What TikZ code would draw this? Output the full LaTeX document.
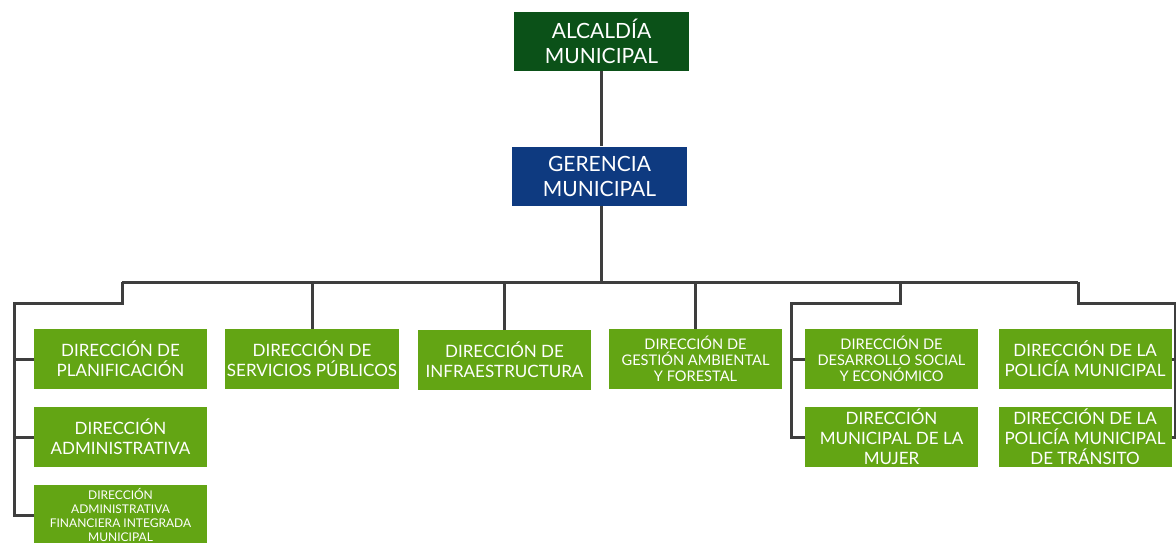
\documentclass[tikz,border=0pt]{standalone}
\usepackage{fontspec}
\setmainfont{Lato}
\usetikzlibrary{positioning}
\definecolor{alcaldia}{HTML}{0B5118}
\definecolor{gerencia}{HTML}{0E3A80}
\definecolor{direccion}{HTML}{63A514}
\definecolor{linea}{HTML}{3E3E3E}
\tikzset{
box/.style={minimum width=86.5pt, minimum height=30pt, inner sep=1pt, align=center, text=white, font=\fontsize{8.5}{10}\selectfont},
top box/.style={box, minimum width=87.5pt, minimum height=29.5pt, font=\fontsize{10.5}{12.5}\selectfont},
dir/.style={box, fill=direccion},
small/.style={font=\fontsize{7.3}{8}\selectfont},
tiny/.style={font=\fontsize{6}{7}\selectfont},
line/.style={draw=linea, line width=1.5pt}
}
\begin{document}
\begin{tikzpicture}[x=0.5pt, y=-0.5pt]
                \useasboundingbox (0,0) rectangle (1176,542);
                \node[top box, fill=alcaldia] (alc) at (601.5,41.5) {ALCALDÍA\\MUNICIPAL};
                \node[top box, fill=gerencia] (ger) at (599.5,176) {GERENCIA\\MUNICIPAL};
                \node[dir] (d11) at (120.5,359) {DIRECCIÓN DE\\PLANIFICACIÓN};
                \node[dir] (d12) at (120.5,437) {DIRECCIÓN\\ADMINISTRATIVA};
                \node[dir, tiny] (d13) at (120.5,515) {DIRECCIÓN\\ADMINISTRATIVA\\FINANCIERA INTEGRADA\\MUNICIPAL};
                \node[dir] (d21) at (312,359) {DIRECCIÓN DE\\SERVICIOS PÚBLICOS};
                \node[dir] (d31) at (504.5,360) {DIRECCIÓN DE\\INFRAESTRUCTURA};
                \node[dir, small] (d41) at (695.5,359) {DIRECCIÓN DE\\GESTIÓN AMBIENTAL\\Y FORESTAL};
                \node[dir, small] (d51) at (891.5,359) {DIRECCIÓN DE\\DESARROLLO SOCIAL\\Y ECONÓMICO};
                \node[dir] (d52) at (891.5,437) {DIRECCIÓN\\MUNICIPAL DE LA\\MUJER};
                \node[dir] (d61) at (1085,359) {DIRECCIÓN DE LA\\POLICÍA MUNICIPAL};
                \node[dir] (d62) at (1085,437) {DIRECCIÓN DE LA\\POLICÍA MUNICIPAL\\DE TRÁNSITO};
                \coordinate (busL) at (122,282);
                \coordinate (busM) at (900,282);
                \coordinate (busR) at (1078,282);
                \coordinate (trunkL) at (14,303);
                \coordinate (trunkM) at (791,303);
                \coordinate (trunkR) at (1175,303);
                \draw[line] (alc.south) -- (alc.south |- ger.north);
                \draw[line] (alc.south |- ger.south) -- (alc.south |- busL);
                \draw[line] (busL) -- (busR);
                \foreach \n in {d21,d31,d41}
                    \draw[line] (\n.north) -- (\n.north |- busL);
                \draw[line] (busL) |- (trunkL) |- (d13.west);
                \draw[line] (trunkL) |- (d11.west) (trunkL) |- (d12.west);
                \draw[line] (busM) |- (trunkM) |- (d52.west);
                \draw[line] (trunkM) |- (d51.west);
                \draw[line] (busR) |- (trunkR) |- (d62.east);
                \draw[line] (trunkR) |- (d61.east);
            \end{tikzpicture}
\end{document}
